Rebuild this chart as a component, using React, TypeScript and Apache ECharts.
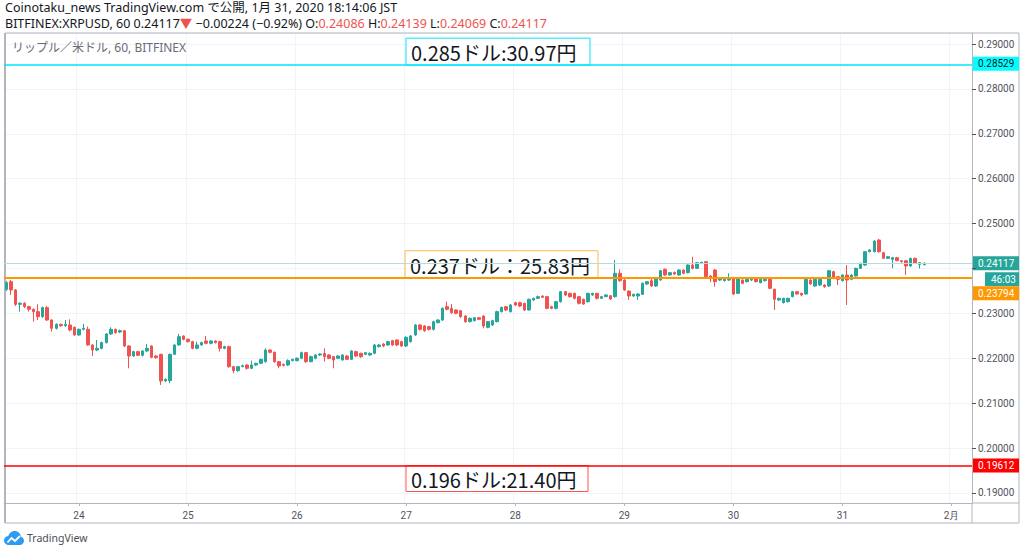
import React, { useEffect, useRef } from 'react';
import * as echarts from 'echarts';

// [open, close, low, high] hourly candles, BITFINEX:XRPUSD 60
const day23 = [
  [0.23536, 0.23685, 0.235, 0.2372], [0.23707, 0.23522, 0.2341, 0.23744], [0.23522, 0.23202, 0.23165, 0.2354],
  [0.23202, 0.23225, 0.23039, 0.23247], [0.23225, 0.2315, 0.2312, 0.2325], [0.2315, 0.23091, 0.23039, 0.2317],
  [0.23091, 0.23039, 0.22816, 0.2311], [0.23039, 0.22928, 0.22853, 0.23202], [0.22928, 0.23128, 0.229, 0.2315],
  [0.23128, 0.22853, 0.2283, 0.23165], [0.22853, 0.22668, 0.22594, 0.2287], [0.22668, 0.22757, 0.2264, 0.2278],
  [0.22757, 0.22727, 0.227, 0.2277], [0.22727, 0.22757, 0.227, 0.22853], [0.22742, 0.22631, 0.226, 0.22868],
  [0.2269, 0.22519, 0.225, 0.2271],
];
const day24 = [
  [0.22519, 0.22646, 0.225, 0.2266], [0.22646, 0.22668, 0.2262, 0.22764], [0.22646, 0.22297, 0.2228, 0.22705],
  [0.22297, 0.22185, 0.22052, 0.2231], [0.22185, 0.22222, 0.2216, 0.22408], [0.22222, 0.22349, 0.222, 0.2237],
  [0.22349, 0.22542, 0.2233, 0.2256], [0.22542, 0.22646, 0.2252, 0.2269], [0.22646, 0.22571, 0.2255, 0.2266],
  [0.22586, 0.22616, 0.2256, 0.2264], [0.22616, 0.22274, 0.2225, 0.2263], [0.22274, 0.22052, 0.21777, 0.2229],
  [0.22052, 0.22148, 0.2203, 0.2217], [0.22148, 0.22067, 0.2205, 0.2217], [0.22067, 0.22163, 0.2204, 0.2218],
  [0.22163, 0.22222, 0.2214, 0.22319], [0.22274, 0.22022, 0.22, 0.2229], [0.22052, 0.22015, 0.2199, 0.2207],
  [0.22089, 0.21495, 0.21406, 0.221], [0.21495, 0.21532, 0.2147, 0.2155], [0.21503, 0.22089, 0.21443, 0.221],
  [0.22089, 0.22297, 0.2207, 0.2231], [0.22297, 0.22482, 0.2228, 0.22542], [0.22497, 0.22423, 0.224, 0.2251],
];
const day25 = [
  [0.22423, 0.22371, 0.2235, 0.2244], [0.22371, 0.22222, 0.222, 0.2239], [0.22222, 0.22297, 0.222, 0.22371],
  [0.22297, 0.22349, 0.2228, 0.2237], [0.22386, 0.22334, 0.2231, 0.22497], [0.22334, 0.22386, 0.2231, 0.224],
  [0.22386, 0.22349, 0.2233, 0.224], [0.22371, 0.22222, 0.22148, 0.2239], [0.22222, 0.2226, 0.222, 0.2228],
  [0.2226, 0.21814, 0.2179, 0.2228], [0.21814, 0.21725, 0.21666, 0.2183], [0.21725, 0.21814, 0.217, 0.2183],
  [0.21814, 0.21836, 0.218, 0.2186], [0.21851, 0.21777, 0.2175, 0.2187], [0.21777, 0.21851, 0.2176, 0.21948],
  [0.21851, 0.21888, 0.2183, 0.219], [0.21888, 0.21977, 0.2187, 0.2199], [0.21925, 0.22185, 0.219, 0.22222],
  [0.22185, 0.22133, 0.2211, 0.222], [0.22133, 0.21925, 0.219, 0.2215], [0.21925, 0.21829, 0.21777, 0.2194],
  [0.21866, 0.21844, 0.2182, 0.2188], [0.21851, 0.21948, 0.2183, 0.21977], [0.21948, 0.21977, 0.2193, 0.2199],
];
const day26 = [
  [0.21948, 0.22, 0.2193, 0.2202], [0.22, 0.22126, 0.2198, 0.22148], [0.22126, 0.21925, 0.219, 0.2214],
  [0.21925, 0.22037, 0.2191, 0.2206], [0.21999, 0.22074, 0.2198, 0.2209], [0.22074, 0.22096, 0.2205, 0.2211],
  [0.2211, 0.22036, 0.21925, 0.22222], [0.22074, 0.21999, 0.2198, 0.2209], [0.22036, 0.21962, 0.21777, 0.2205],
  [0.21999, 0.22051, 0.2198, 0.2207], [0.21962, 0.22074, 0.2195, 0.2209], [0.22051, 0.21977, 0.2196, 0.2207],
  [0.21977, 0.22163, 0.2196, 0.2218], [0.22148, 0.22051, 0.2203, 0.2217], [0.2211, 0.22036, 0.2201, 0.22125],
  [0.22088, 0.22125, 0.2207, 0.2214], [0.22074, 0.2211, 0.2205, 0.2213], [0.2211, 0.22296, 0.2209, 0.22318],
  [0.22259, 0.22296, 0.2224, 0.22318], [0.22318, 0.22274, 0.2225, 0.2234], [0.22296, 0.22371, 0.2228, 0.2239],
  [0.22393, 0.22296, 0.2228, 0.2241], [0.22408, 0.22296, 0.2227, 0.2242], [0.22371, 0.22274, 0.2225, 0.2239],
];
const day27 = [
  [0.22274, 0.22467, 0.2225, 0.2249], [0.22371, 0.22497, 0.2235, 0.22519], [0.22519, 0.22742, 0.225, 0.2276],
  [0.22742, 0.22645, 0.2262, 0.2276], [0.22719, 0.22616, 0.2259, 0.2274], [0.22704, 0.22645, 0.2262, 0.2272],
  [0.22645, 0.22816, 0.2262, 0.22838], [0.22794, 0.22853, 0.2278, 0.2287], [0.22853, 0.23113, 0.2283, 0.2313],
  [0.2315, 0.23091, 0.2307, 0.23261], [0.23113, 0.23016, 0.2299, 0.23209], [0.23076, 0.23001, 0.2298, 0.2309],
  [0.23061, 0.22927, 0.229, 0.23076], [0.22942, 0.22816, 0.2279, 0.2296], [0.22816, 0.2289, 0.228, 0.2291],
  [0.22838, 0.22905, 0.2282, 0.2292], [0.22905, 0.22868, 0.2285, 0.2292], [0.22942, 0.22719, 0.22667, 0.2296],
  [0.2269, 0.22816, 0.2267, 0.2283], [0.22742, 0.22838, 0.2272, 0.2286], [0.22816, 0.23039, 0.228, 0.23061],
  [0.23039, 0.23135, 0.2302, 0.2315], [0.2315, 0.23076, 0.2305, 0.23165], [0.23039, 0.23187, 0.2302, 0.23209],
];
const day28 = [
  [0.23239, 0.23187, 0.23165, 0.23261], [0.23239, 0.23165, 0.2314, 0.23261], [0.23224, 0.23076, 0.2305, 0.2324],
  [0.23076, 0.23313, 0.2306, 0.2333], [0.23298, 0.23336, 0.2328, 0.2335], [0.23336, 0.23373, 0.2332, 0.23395],
  [0.23387, 0.23358, 0.2334, 0.234], [0.23373, 0.23113, 0.2309, 0.2339], [0.2315, 0.23113, 0.2309, 0.2317],
  [0.23113, 0.23261, 0.2309, 0.2328], [0.23261, 0.23484, 0.2324, 0.235], [0.23484, 0.2341, 0.2339, 0.235],
  [0.23447, 0.23373, 0.2335, 0.2346], [0.23447, 0.23336, 0.2331, 0.2346], [0.23373, 0.23224, 0.232, 0.2339],
  [0.23313, 0.23209, 0.2319, 0.2333], [0.23261, 0.23447, 0.2324, 0.2346], [0.2341, 0.23447, 0.2339, 0.2346],
  [0.23447, 0.23336, 0.2331, 0.2346], [0.23336, 0.23373, 0.2332, 0.2339], [0.23373, 0.2341, 0.2336, 0.2343],
  [0.23395, 0.23321, 0.233, 0.2341], [0.23373, 0.23892, 0.2335, 0.24189], [0.23892, 0.2373, 0.237, 0.2398],
];
const day29 = [
  [0.23743, 0.23521, 0.235, 0.2376], [0.23498, 0.23387, 0.233, 0.2351], [0.23387, 0.23424, 0.2337, 0.2344],
  [0.23387, 0.23432, 0.233, 0.2345], [0.23424, 0.23669, 0.2341, 0.2369], [0.23654, 0.23706, 0.2364, 0.2372],
  [0.23729, 0.2361, 0.2359, 0.238], [0.2361, 0.23781, 0.2359, 0.238], [0.23743, 0.23951, 0.2373, 0.2397],
  [0.23981, 0.23855, 0.2384, 0.24], [0.23855, 0.23907, 0.2384, 0.2392], [0.23914, 0.23877, 0.2386, 0.2393],
  [0.23855, 0.23966, 0.2384, 0.2398], [0.23966, 0.23892, 0.2387, 0.2398], [0.23907, 0.24077, 0.2389, 0.2409],
  [0.24077, 0.24003, 0.2398, 0.24263], [0.24003, 0.24129, 0.2399, 0.2414], [0.24115, 0.24137, 0.241, 0.2415],
  [0.24152, 0.23818, 0.238, 0.2417], [0.23832, 0.23781, 0.237, 0.2385], [0.23966, 0.23706, 0.23595, 0.2399],
  [0.23743, 0.23781, 0.2372, 0.238], [0.23729, 0.23758, 0.2371, 0.2377], [0.23743, 0.23758, 0.2372, 0.23892],
];
const day30 = [
  [0.23781, 0.23432, 0.2341, 0.238], [0.23446, 0.23781, 0.2343, 0.238], [0.23743, 0.23669, 0.2365, 0.2376],
  [0.23706, 0.23758, 0.2369, 0.2377], [0.23743, 0.23758, 0.2372, 0.2379], [0.23781, 0.23706, 0.2369, 0.238],
  [0.23684, 0.23758, 0.2367, 0.2377], [0.23729, 0.23758, 0.2371, 0.2377], [0.23758, 0.23558, 0.2354, 0.2377],
  [0.23536, 0.23313, 0.23075, 0.2355], [0.23298, 0.23335, 0.2328, 0.2335], [0.23239, 0.23335, 0.2322, 0.2335],
  [0.23261, 0.23335, 0.2324, 0.2335], [0.23372, 0.23484, 0.2336, 0.235], [0.23484, 0.23432, 0.2342, 0.235],
  [0.23446, 0.23409, 0.2338, 0.2346], [0.23432, 0.23758, 0.2342, 0.2377], [0.23743, 0.23654, 0.2364, 0.2376],
  [0.2361, 0.23758, 0.2359, 0.2377], [0.23632, 0.23758, 0.2361, 0.2377], [0.23632, 0.23595, 0.2357, 0.2365],
  [0.2361, 0.23951, 0.2359, 0.2397], [0.23929, 0.23781, 0.2376, 0.2395], [0.23818, 0.23758, 0.23632, 0.2383],
];
const day31 = [
  [0.23729, 0.23855, 0.2371, 0.2387], [0.23855, 0.23743, 0.23187, 0.24077], [0.23758, 0.23855, 0.2374, 0.2387],
  [0.23832, 0.24003, 0.2382, 0.2402], [0.24003, 0.24115, 0.2399, 0.2413], [0.24077, 0.24374, 0.2406, 0.2439],
  [0.24374, 0.24412, 0.2436, 0.2443], [0.24374, 0.24612, 0.2436, 0.2463], [0.24634, 0.24374, 0.24352, 0.2466],
  [0.24352, 0.24226, 0.2421, 0.2437], [0.24226, 0.24263, 0.2421, 0.2428], [0.24204, 0.24241, 0.24003, 0.2426],
  [0.24241, 0.24174, 0.2416, 0.2426], [0.24174, 0.24152, 0.2413, 0.2419], [0.24174, 0.24055, 0.23855, 0.2419],
  [0.24055, 0.24226, 0.2404, 0.2424], [0.24226, 0.24115, 0.241, 0.2424], [0.24092, 0.24129, 0.24, 0.2414],
  [0.24086, 0.24117, 0.24069, 0.24139],
];

const dayTicks = ['24', '25', '26', '27', '28', '29', '30', '31', '2月'];
const levelHigh = 0.28529;
const levelMid = 0.23794;
const levelLow = 0.19612;
const lastPrice = 0.24117;
const countdown = '46:03';
const boxTexts = ['0.285ドル:30.97円', '0.237ドル：25.83円', '0.196ドル:21.40円'];
const headerLine1 = 'Coinotaku_news TradingView.com で公開, 1月 31, 2020 18:14:06 JST';
const legendText = 'リップル／米ドル, 60, BITFINEX';

const candles = [...day23, ...day24, ...day25, ...day26, ...day27, ...day28, ...day29, ...day30, ...day31];

const SLOTS = 213;
const categories: string[] = [];
const tickLabel: Record<string, string> = {};
{
  const start = Date.UTC(2020, 0, 23, 8);
  let k = 0;
  for (let i = 0; i < SLOTS; i++) {
    const d = new Date(start + i * 3600e3);
    const key = `${d.getUTCMonth() + 1}/${d.getUTCDate()} ${String(d.getUTCHours()).padStart(2, '0')}:00`;
    categories.push(key);
    if (d.getUTCHours() === 0) tickLabel[key] = dayTicks[k++] ?? '';
  }
}
const seriesData: any[] = categories.map((_, i) => (i < candles.length ? candles[i] : '-'));
const isMidnight = (_i: number, v: string) => tickLabel[v] !== undefined;

const AX = 'Roboto, "Liberation Sans", sans-serif';
const UI = '"Noto Sans", "Noto Sans CJK JP", sans-serif';

export default function App() {
  const ref = useRef<HTMLDivElement>(null);
  useEffect(() => {
    echarts.graphic.registerShape(
      'tvcloud',
      echarts.graphic.extendPath(
        'M5 14 C2.2 14 0 11.9 0 9.4 C0 7 1.9 5.2 4.3 5.1 C5.1 2.2 7.6 0 10.7 0 C14 0 16.6 2.5 17 5.7 C18.8 6.2 20 7.8 20 9.7 C20 12.1 18.1 14 15.7 14 Z',
        {}
      ) as any
    );
    const chart = echarts.init(ref.current!, null, { renderer: 'svg' });
    const option: any = {
      animation: false,
      backgroundColor: '#ffffff',
      grid: { left: 4, right: 52, top: 33, bottom: 49, containLabel: false },
      xAxis: {
        type: 'category',
        data: categories,
        boundaryGap: true,
        axisLine: { show: true, lineStyle: { color: '#b2b5be', width: 1 } },
        axisTick: { show: true, interval: isMidnight, alignWithLabel: true, length: 3, lineStyle: { color: '#b2b5be' } },
        axisLabel: {
          interval: isMidnight,
          formatter: (v: string) => tickLabel[v] ?? '',
          color: '#50535e',
          fontSize: 10,
          fontFamily: AX,
          margin: 7,
        },
        splitLine: { show: true, interval: isMidnight, lineStyle: { color: '#f0f3fa', width: 1 } },
      },
      yAxis: {
        type: 'value',
        position: 'right',
        min: 0.18777,
        max: 0.29245,
        splitNumber: 10,
        scale: true,
        axisLine: { show: true, lineStyle: { color: '#b2b5be', width: 1 } },
        axisTick: { show: true, length: 4, lineStyle: { color: '#50535e' } },
        axisLabel: {
          showMinLabel: false,
          showMaxLabel: false,
          // the 0.24000 label sits under the last-price tag, as in TradingView
          formatter: (v: number) => (Math.abs(v - 0.24) < 1e-9 ? '' : v.toFixed(5)),
          color: '#50535e',
          fontSize: 10,
          fontFamily: AX,
          margin: 6,
        },
        splitLine: { show: true, lineStyle: { color: '#f0f3fa', width: 1 } },
      },
      series: [
        {
          type: 'candlestick',
          data: seriesData,
          barWidth: 3,
          itemStyle: {
            color: '#26a69a',
            color0: '#ef5350',
            borderColor: '#26a69a',
            borderColor0: '#ef5350',
            borderWidth: 1,
          },
          markLine: {
            silent: true,
            precision: 5,
            symbol: ['none', 'none'],
            label: { show: false },
            animation: false,
            data: [
              { yAxis: lastPrice, lineStyle: { color: '#b2dfdb', width: 1, type: 'solid' } },
              { yAxis: levelHigh, lineStyle: { color: '#00e5ff', width: 1.5, type: 'solid' } },
              { yAxis: levelMid, lineStyle: { color: '#ff9800', width: 2, type: 'solid' } },
              { yAxis: levelLow, lineStyle: { color: '#ff0000', width: 1.5, type: 'solid' } },
            ],
          },
        },
      ],
    };
    chart.setOption(option);

    const py = (v: number) => chart.convertToPixel({ yAxisIndex: 0 }, v) as number;
    const yH = py(levelHigh);
    const yM = py(levelMid);
    const yL = py(levelLow);
    const yP = py(lastPrice);

    const tag = (cy: number, text: string, bg: string, fg: string, x = 972, w = 47) => ({
      type: 'group',
      children: [
        { type: 'rect', shape: { x, y: cy - 7, width: w, height: 14 }, style: { fill: bg } },
        {
          type: 'text',
          x: x + 6,
          y: cy,
          style: { text, fill: fg, fontSize: 10, fontFamily: AX, verticalAlign: 'middle', align: 'left' },
        },
      ],
    });
    const box = (x: number, y: number, w: number, h: number, stroke: string, text: string) => ({
      type: 'group',
      children: [
        { type: 'rect', shape: { x, y, width: w, height: h }, style: { fill: '#ffffff', stroke, lineWidth: 1 } },
        {
          type: 'text',
          x: x + 5,
          y: y + h / 2 + 1,
          style: { text, fill: '#131722', fontSize: 20, fontFamily: '"Noto Sans CJK JP", "Noto Sans", sans-serif', verticalAlign: 'middle' },
        },
      ],
    });

    chart.setOption({
      graphic: [
        // header
        {
          type: 'text',
          x: 5,
          y: 0.5,
          style: { text: headerLine1, fill: '#131722', fontSize: 12.5, fontFamily: UI, verticalAlign: 'top', lineHeight: 14 },
        },
        {
          type: 'text',
          x: 5,
          y: 16,
          style: {
            text:
              '{d|BITFINEX:XRPUSD, 60 0.24117}{r|▼}{d| −0.00224 (−0.92%) O:}{r|0.24086}{d| H:}{r|0.24139}{d| L:}{r|0.24069}{d| C:}{r|0.24117}',
            verticalAlign: 'top',
            rich: {
              d: { fill: '#131722', fontSize: 12.5, fontFamily: UI, lineHeight: 14 },
              r: { fill: '#ef5350', fontSize: 12.5, fontFamily: UI, lineHeight: 14 },
            },
          },
        },
        // frame
        { type: 'rect', shape: { x: 5, y: 33, width: 1014, height: 490 }, style: { fill: 'none', stroke: '#b2b5be', lineWidth: 1 } },
        { type: 'line', shape: { x1: 5, y1: 33, x2: 5, y2: 523 }, style: { stroke: '#b2b5be', lineWidth: 2 } },
        { type: 'line', shape: { x1: 972, y1: 503, x2: 972, y2: 523 }, style: { stroke: '#b2b5be', lineWidth: 1 } },
        { type: 'line', shape: { x1: 972, y1: 503, x2: 1019, y2: 503 }, style: { stroke: '#b2b5be', lineWidth: 1 } },
        // legend
        {
          type: 'text',
          x: 12,
          y: 47,
          style: { text: legendText, fill: '#6a6d78', fontSize: 12, fontFamily: UI, verticalAlign: 'middle' },
        },
        // annotation boxes
        box(406, yH - 27, 184, 27, '#00e5ff', boxTexts[0]),
        box(405, yM - 27, 193, 27, '#ffb74d', boxTexts[1]),
        box(406, yL, 182, 26, '#ff5252', boxTexts[2]),
        // price tags
        tag(yH - 1.5, levelHigh.toFixed(5), '#00ffff', '#131722'),
        tag(yP, lastPrice.toFixed(5), '#26a69a', '#ffffff'),
        tag(yP + 16, countdown, '#26a69a', '#ffffff', 985, 34),
        tag(yP + 30, levelMid.toFixed(5), '#ff9800', '#ffffff'),
        tag(yL, levelLow.toFixed(5), '#ff0000', '#ffffff'),
        // TradingView logo
        { type: 'tvcloud', x: 4, y: 531, scaleX: 1, scaleY: 1, style: { fill: '#2e9bf0' } },
        {
          type: 'polyline',
          shape: { points: [[3.5, 11.5], [7.5, 7], [11, 10], [16, 5]] },
          style: { stroke: '#ffffff', lineWidth: 1.8, fill: 'none' },
          x: 4,
          y: 531,
        },
        {
          type: 'text',
          x: 27,
          y: 538,
          style: { text: 'TradingView', fill: '#4a4d57', fontSize: 10.5, fontFamily: UI, verticalAlign: 'middle' },
        },
      ],
    });
    return () => chart.dispose();
  }, []);
  return (
    <div
      ref={ref}
      style={{ position: 'fixed', left: 0, top: 0, width: 1024, height: 552, background: '#ffffff' }}
    />
  );
}
